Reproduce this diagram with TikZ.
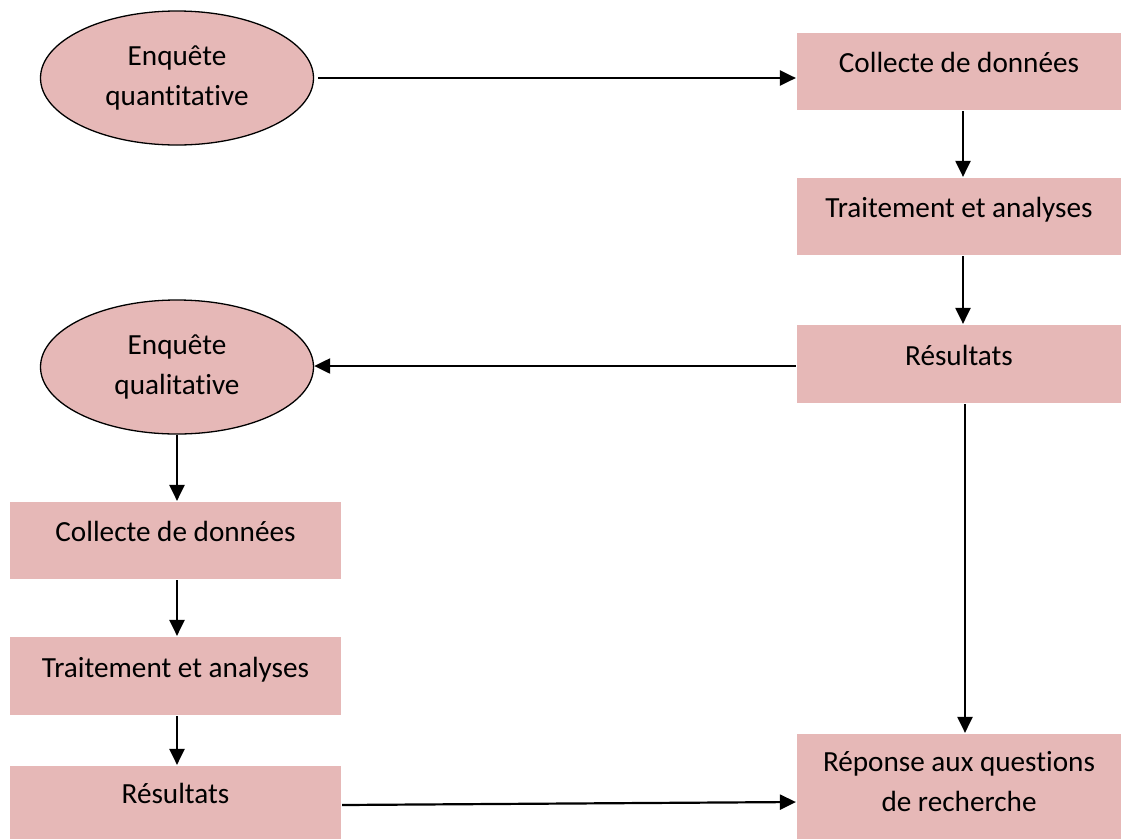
\documentclass[tikz,border=0pt]{standalone}
\usepackage{fontspec}
\setmainfont[Ligatures={NoCommon}]{Carlito}
\usetikzlibrary{shapes,arrows.meta}

\definecolor{rosebox}{HTML}{E6B8B7}

\begin{document}
\begin{tikzpicture}[
      x = 1pt, y = 1pt,
      > = {Triangle[length=16pt,width=15pt]},
      line width = 2.2pt,
      font = \fontsize{29.2}{40}\selectfont]

      \tikzstyle{survey}=[
      ellipse,
      draw = black,
      line width = 1.3pt,
      fill = rosebox,
      inner sep = 0pt,
      align = center,
      minimum width = 273pt,
      minimum height = 134pt]

      \tikzstyle{stage}=[
      rectangle,
      fill = rosebox,
      inner sep = 0pt,
      align = center,
      text depth = 18pt]

      \useasboundingbox (0,0) rectangle (1121,-839);

      % left column
      \node[survey, text depth=4pt] (quanti) at (177,-78) {Enquête\\quantitative};
      \node[survey, text depth=4pt] (quali) at (177,-367) {Enquête\\qualitative};
      \node[stage, minimum width=331pt, minimum height=77pt] (collecteL) at (175.5,-540.5) {Collecte de données};
      \node[stage, minimum width=331pt, minimum height=78pt] (traitL) at (175.5,-676) {Traitement et analyses};
      \node[stage, minimum width=331pt, minimum height=73pt] (resL) at (175.5,-802.5) {Résultats};

      % right column
      \node[stage, minimum width=324pt, minimum height=77pt] (collecteR) at (959,-71.5) {Collecte de données};
      \node[stage, minimum width=324pt, minimum height=77pt] (traitR) at (959,-216.5) {Traitement et analyses};
      \node[stage, minimum width=324pt, minimum height=78pt] (resR) at (959,-364) {Résultats};
      \node[stage, minimum width=324pt, minimum height=105pt, text depth=10pt] (reponse) at (959,-786.5) {Réponse aux questions\\de recherche};

      \draw[->, shorten < = 4pt] (quanti.east) -- (collecteR.west |- quanti.east);
      \draw[->] ([xshift=4pt]collecteR.south) -- ([xshift=4pt]traitR.north);
      \draw[->] ([xshift=4pt]traitR.south) -- ([xshift=4pt]resR.north);
      \draw[->] (resR.west |- 0,-366) -- (quali.east |- 0,-366);
      \draw[->] ([xshift=6pt]resR.south) -- ([xshift=6pt]reponse.north);
      \draw[->] (quali.south) -- (quali.south |- collecteL.north);
      \draw[->] (quali.south |- collecteL.south) -- (quali.south |- traitL.north);
      \draw[->] (quali.south |- traitL.south) -- (quali.south |- resL.north);
      \draw[->] (resL.east |- 0,-805) -- (reponse.west |- 0,-802);
\end{tikzpicture}
\end{document}
